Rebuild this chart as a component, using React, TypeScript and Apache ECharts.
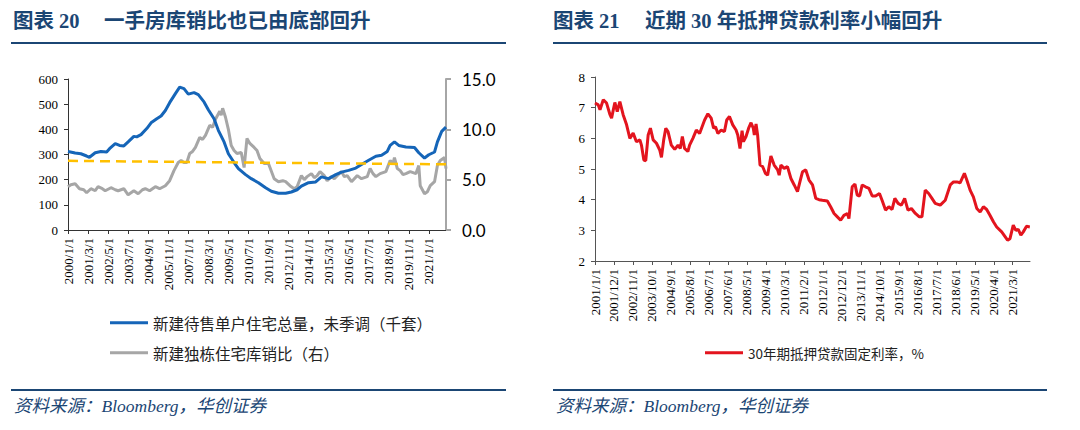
import React, { useEffect, useRef } from "react";
import * as echarts from "echarts";

// ---------- Left chart (monthly index from 2000/1) ----------
const leftTickLabels = [
  "2000/1/1", "2001/3/1", "2002/5/1", "2003/7/1", "2004/9/1", "2005/11/1", "2007/1/1",
  "2008/3/1", "2009/5/1", "2010/7/1", "2011/9/1", "2012/11/1", "2014/1/1", "2015/3/1",
  "2016/5/1", "2017/7/1", "2018/9/1", "2019/11/1", "2021/1/1",
];
const leftTickStep = 14;
const leftMonths = 264;

// 新建待售单户住宅总量，未季调（千套） [monthIndex, value]
const newHomesForSale: [number, number][] = [
  [0, 312], [5, 306], [9, 303], [13, 294], [15, 289], [19, 307], [23, 312], [27, 310], [29, 323],
  [33, 343], [36, 336], [39, 334], [42, 350], [46, 372], [48, 370], [51, 379], [55, 403], [58, 426],
  [62, 442], [65, 453], [68, 475], [71, 506], [75, 542], [78, 568], [81, 562], [84, 540], [88, 546],
  [91, 538], [95, 509], [98, 478], [102, 442], [105, 396], [109, 350], [112, 303], [116, 268],
  [119, 244], [124, 220], [128, 204], [133, 188], [138, 168], [142, 154], [147, 146], [152, 146],
  [156, 151], [160, 160], [163, 174], [168, 188], [173, 191], [177, 211], [182, 204], [187, 220],
  [191, 230], [196, 237], [201, 246], [205, 260], [210, 277], [215, 293], [219, 297], [223, 312],
  [225, 336], [228, 350], [231, 336], [236, 330], [242, 328], [245, 307], [249, 286], [252, 299],
  [256, 310], [258, 350], [261, 392], [264, 409],
];

// 新建独栋住宅库销比（右） [monthIndex, value]
const monthsSupply: [number, number][] = [
  [0, 4.3], [2, 4.5], [5, 4.6], [8, 4.1], [11, 4.0], [13, 3.7], [16, 4.1], [19, 3.9], [21, 4.3],
  [24, 4.1], [26, 3.9], [30, 4.2], [33, 4.0], [35, 3.9], [39, 4.1], [42, 3.5], [46, 3.9], [49, 3.6],
  [52, 4.0], [54, 4.1], [57, 3.9], [61, 4.3], [64, 4.1], [68, 4.4], [71, 4.9], [74, 5.9], [77, 6.7],
  [79, 6.9], [81, 6.7], [83, 6.7], [85, 7.6], [87, 7.8], [89, 8.2], [92, 9.2], [94, 9.0], [96, 9.4],
  [99, 10.4], [101, 10.2], [103, 11.0], [106, 11.8], [107, 11.4], [108, 12.1], [110, 11.2],
  [112, 10.0], [114, 8.4], [116, 7.9], [118, 7.6], [121, 7.7], [123, 6.2], [125, 9.1], [127, 8.6],
  [130, 8.2], [132, 7.9], [134, 7.1], [137, 6.6], [140, 6.6], [144, 5.1], [147, 4.8], [150, 4.9],
  [152, 4.8], [155, 4.4], [158, 4.1], [160, 4.3], [163, 5.4], [165, 5.0], [167, 5.3], [170, 5.6],
  [172, 5.2], [174, 5.4], [176, 5.8], [179, 5.4], [181, 4.9], [184, 5.3], [186, 5.1], [188, 5.4],
  [191, 5.8], [193, 5.3], [195, 5.4], [198, 4.8], [202, 5.4], [205, 5.1], [209, 5.3], [211, 6.1],
  [213, 5.6], [215, 5.3], [218, 5.6], [222, 5.8], [225, 6.9], [227, 6.6], [228, 7.2], [230, 6.1],
  [232, 5.9], [234, 5.5], [236, 5.6], [239, 5.8], [243, 5.6], [245, 6.4], [246, 4.4], [249, 3.6],
  [251, 3.8], [253, 4.4], [256, 4.8], [258, 6.4], [260, 6.9], [263, 7.2], [264, 6.1],
];

// 库销比参考线（右）
const supplyRefLine: [number, number][] = [[0, 6.87], [264, 6.52]];

// ---------- Right chart (monthly index from 2001/1) ----------
const rightTickLabels = [
  "2001/1/1", "2001/12/1", "2002/11/1", "2003/10/1", "2004/9/1", "2005/8/1", "2006/7/1",
  "2007/6/1", "2008/5/1", "2009/4/1", "2010/3/1", "2011/2/1", "2012/1/1", "2012/12/1",
  "2013/11/1", "2014/10/1", "2015/9/1", "2016/8/1", "2017/7/1", "2018/6/1", "2019/5/1",
  "2020/4/1", "2021/3/1",
];
const rightTickStep = 11;
const rightMonths = 252;

// 30年期抵押贷款固定利率，% [monthIndex, value]
const mortgageRate: [number, number][] = [
  [0, 7.15], [1.9, 7.09], [2.9, 6.93], [4.8, 7.26], [6.7, 7.15], [8.7, 6.77], [9.6, 6.66],
  [11.5, 7.17], [12.9, 6.87], [14.4, 7.2], [16.3, 6.77], [18.3, 6.44], [20.2, 6.0], [22.1, 6.17],
  [24, 5.89], [26, 5.95], [26.9, 5.78], [28.3, 5.29], [29.4, 5.27], [30.8, 6.11], [32.1, 6.33],
  [33.7, 5.95], [35.6, 5.84], [37.5, 5.62], [38.5, 5.38], [39.8, 5.95], [41, 6.33], [42.3, 6.22],
  [44.2, 5.78], [46.2, 5.64], [48.1, 5.78], [49.4, 5.67], [50.6, 6.06], [51.9, 5.67], [53.8, 5.57],
  [54.8, 5.78], [56.7, 6.0], [58.7, 6.27], [60.6, 6.16], [63.5, 6.6], [65.4, 6.8], [67.3, 6.66],
  [68.7, 6.33], [69.8, 6.38], [71.2, 6.16], [73.1, 6.27], [75, 6.22], [76.3, 6.6], [77.9, 6.71],
  [79.8, 6.44], [81.7, 6.27], [82.7, 6.11], [84, 5.67], [85.2, 6.25], [86, 5.89], [87.5, 6.06],
  [89, 6.33], [90.4, 6.51], [91.7, 6.33], [92.3, 6.11], [93.3, 6.47], [94.2, 6.11], [95.6, 5.13],
  [97.1, 5.08], [98.7, 4.86], [100, 4.8], [101.9, 5.42], [103.8, 5.13], [105.8, 4.97], [106.7, 4.8],
  [107.7, 5.13], [109.6, 5.02], [111.5, 5.08], [113.5, 4.69], [115.4, 4.48], [117.3, 4.26],
  [118.7, 4.58], [120.2, 4.91], [122.1, 4.97], [124, 4.64], [126, 4.48], [127.9, 4.04], [129.8, 4.0],
  [131.7, 3.98], [134.6, 3.96], [136.5, 3.77], [138.5, 3.55], [140.4, 3.44], [142.3, 3.33],
  [144.2, 3.49], [146.2, 3.55], [147.1, 3.38], [149, 4.42], [150.6, 4.51], [151.9, 4.15],
  [153.3, 4.12], [154.8, 4.48], [156.7, 4.42], [158.7, 4.37], [160.6, 4.12], [162.5, 4.12],
  [164.8, 4.2], [166.3, 3.98], [168.3, 3.66], [170.2, 3.77], [172.1, 3.68], [173.7, 4.04],
  [175.6, 3.88], [177.5, 3.82], [179.4, 4.04], [181.3, 3.66], [183.3, 3.71], [185.6, 3.55],
  [187.9, 3.44], [189.4, 3.44], [191.3, 4.31], [193.3, 4.2], [195.2, 4.04], [197.1, 3.88],
  [200, 3.82], [202.9, 3.98], [205.8, 4.48], [207.7, 4.58], [209.6, 4.58], [211.5, 4.55],
  [214, 4.86], [215.4, 4.64], [217.3, 4.31], [219.2, 4.09], [221.2, 3.71], [223.1, 3.6],
  [225, 3.77], [226.9, 3.68], [228.8, 3.49], [230.8, 3.28], [232.7, 3.11], [235.6, 2.95],
  [239, 2.68], [240.4, 2.73], [242.3, 3.17], [243.8, 3.0], [245.2, 3.03], [246.7, 2.84],
  [248.1, 2.95], [250, 3.13], [251.9, 3.11],
];

const SERIES_BLUE = "新建待售单户住宅总量，未季调（千套）";
const SERIES_GRAY = "新建独栋住宅库销比（右）";
const SERIES_RED = "30年期抵押贷款固定利率，%";

const NAVY = "#1b4674";
const SERIF = "'Liberation Serif', 'Noto Sans CJK SC', serif";
const CJK = "'Noto Sans CJK SC', sans-serif";

export default function App() {
  const ref = useRef<HTMLDivElement>(null);

  useEffect(() => {
    if (!ref.current) return;
    const chart = echarts.init(ref.current, undefined, { renderer: "svg" });

    const leftTicks = leftTickLabels.map((_, i) => i * leftTickStep);
    const rightTicks = rightTickLabels.map((_, i) => i * rightTickStep);

    const axisLabelBase = { fontFamily: "'Liberation Serif', serif", fontSize: 13, color: "#000" };

    const option: any = {
      animation: false,
      backgroundColor: "#fff",
      grid: [
        { left: 68, right: 634, top: 79, bottom: 200, outerBoundsMode: "none" },
        { left: 595, right: 50, top: 77, bottom: 169, outerBoundsMode: "none" },
      ],
      legend: [
        {
          data: [SERIES_BLUE], left: 105, top: 310, icon: "rect", itemWidth: 38, itemHeight: 3,
          textStyle: { fontFamily: CJK, fontSize: 15.5, color: "#222" }, selectedMode: false,
        },
        {
          data: [SERIES_GRAY], left: 105, top: 340, icon: "rect", itemWidth: 38, itemHeight: 3,
          textStyle: { fontFamily: CJK, fontSize: 15.5, color: "#222" }, selectedMode: false,
        },
        {
          data: [SERIES_RED], left: 700, top: 341, icon: "rect", itemWidth: 38, itemHeight: 3,
          textStyle: { fontFamily: CJK, fontSize: 13.5, color: "#222" }, selectedMode: false,
        },
      ],
      xAxis: [
        {
          type: "value", gridIndex: 0, min: 0, max: leftMonths,
          axisLine: { show: true, lineStyle: { color: "#333", width: 1 } },
          axisTick: { show: true, customValues: leftTicks, length: 4, lineStyle: { color: "#333" } },
          axisLabel: {
            ...axisLabelBase, rotate: 90, margin: 8, customValues: leftTicks,
            formatter: (v: number) => leftTickLabels[Math.round(v / leftTickStep)] ?? "",
          },
          splitLine: { show: false },
        },
        {
          type: "value", gridIndex: 1, min: 0, max: rightMonths,
          axisLine: { show: true, lineStyle: { color: "#555", width: 1 } },
          axisTick: { show: true, customValues: rightTicks, length: 4, lineStyle: { color: "#555" } },
          axisLabel: {
            ...axisLabelBase, rotate: 90, margin: 8, customValues: rightTicks,
            formatter: (v: number) => rightTickLabels[Math.round(v / rightTickStep)] ?? "",
          },
          splitLine: { show: false },
        },
      ],
      yAxis: [
        {
          type: "value", gridIndex: 0, position: "left", min: 0, max: 600, interval: 100,
          axisLine: { show: true, lineStyle: { color: "#333" } },
          axisTick: { show: true, length: 4, lineStyle: { color: "#333" } },
          axisLabel: { fontFamily: "'Liberation Serif', serif", fontSize: 13, color: "#000", margin: 10 },
          splitLine: { show: false },
        },
        {
          type: "value", gridIndex: 0, position: "right", min: 0, max: 15, interval: 5,
          axisLine: { show: true, lineStyle: { color: "#a6a6a6", width: 2 } },
          axisTick: { show: true, length: 5, lineStyle: { color: "#a6a6a6", width: 2 } },
          axisLabel: {
            fontFamily: "Lato, 'Liberation Sans', sans-serif", fontSize: 17, color: "#000", margin: 16,
            formatter: (v: number) => v.toFixed(1),
          },
          splitLine: { show: false },
        },
        {
          type: "value", gridIndex: 1, min: 2, max: 8, interval: 1,
          axisLine: { show: true, lineStyle: { color: "#555" } },
          axisTick: { show: true, length: 4, lineStyle: { color: "#555" } },
          axisLabel: { fontFamily: "'Liberation Serif', serif", fontSize: 13, color: "#000", margin: 10 },
          splitLine: { show: false },
        },
      ],
      series: [
        {
          name: SERIES_GRAY, type: "line", xAxisIndex: 0, yAxisIndex: 1, data: monthsSupply,
          showSymbol: false, color: "#a6a6a6", lineStyle: { width: 3, color: "#a6a6a6" },
        },
        {
          name: SERIES_BLUE, type: "line", xAxisIndex: 0, yAxisIndex: 0, data: newHomesForSale,
          showSymbol: false, color: "#1565b8", lineStyle: { width: 3, color: "#1565b8" },
        },
        {
          name: "参考线", type: "line", xAxisIndex: 0, yAxisIndex: 1, data: supplyRefLine,
          showSymbol: false, color: "#ffc000",
          lineStyle: { width: 2.5, color: "#ffc000", type: [10, 6] },
        },
        {
          name: SERIES_RED, type: "line", xAxisIndex: 1, yAxisIndex: 2, data: mortgageRate,
          showSymbol: false, color: "#e3141e", lineStyle: { width: 3, color: "#e3141e" },
        },
      ],
      graphic: [
        { type: "text", left: 13, top: 11, style: { text: "图表 20", font: `bold 20.5px ${SERIF}`, fill: NAVY } },
        { type: "text", left: 104, top: 11, style: { text: "一手房库销比也已由底部回升", font: `bold 20.5px ${SERIF}`, fill: NAVY } },
        { type: "text", left: 553, top: 11, style: { text: "图表 21", font: `bold 20.5px ${SERIF}`, fill: NAVY } },
        { type: "text", left: 645, top: 11, style: { text: "近期 30 年抵押贷款利率小幅回升", font: `bold 20.5px ${SERIF}`, fill: NAVY } },
        { type: "line", shape: { x1: 11, y1: 43, x2: 506, y2: 43 }, style: { stroke: NAVY, lineWidth: 2 } },
        { type: "line", shape: { x1: 553, y1: 43, x2: 1047, y2: 43 }, style: { stroke: NAVY, lineWidth: 2 } },
        { type: "line", shape: { x1: 11, y1: 390, x2: 506, y2: 390 }, style: { stroke: NAVY, lineWidth: 2 } },
        { type: "line", shape: { x1: 553, y1: 390, x2: 1047, y2: 390 }, style: { stroke: NAVY, lineWidth: 2 } },
        { type: "text", left: 14, top: 397, style: { text: "资料来源：Bloomberg，华创证券", font: `italic 17.5px ${SERIF}`, fill: NAVY } },
        { type: "text", left: 556, top: 397, style: { text: "资料来源：Bloomberg，华创证券", font: `italic 17.5px ${SERIF}`, fill: NAVY } },
      ],
    };

    chart.setOption(option);
    return () => chart.dispose();
  }, []);

  return (
    <div
      ref={ref}
      style={{ position: "fixed", left: 0, top: 0, width: 1080, height: 430, background: "#fff" }}
    />
  );
}
